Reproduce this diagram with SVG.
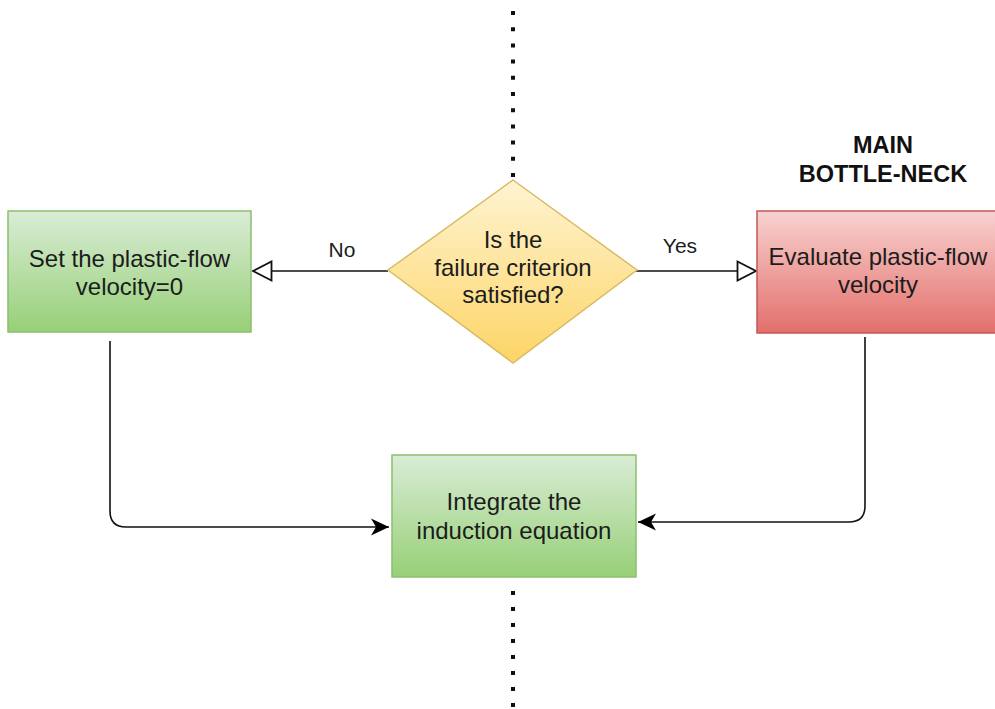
<svg xmlns="http://www.w3.org/2000/svg" width="995" height="709" viewBox="0 0 995 709">
<defs>
<linearGradient id="gGreen" x1="0" y1="0" x2="0" y2="1"><stop offset="0" stop-color="#d9ecd6"/><stop offset="1" stop-color="#97d077"/></linearGradient>
<linearGradient id="gRed" x1="0" y1="0" x2="0" y2="1"><stop offset="0" stop-color="#f8d2d0"/><stop offset="1" stop-color="#e36f6b"/></linearGradient>
<linearGradient id="gYellow" x1="0" y1="0" x2="0" y2="1"><stop offset="0" stop-color="#fff4d2"/><stop offset="1" stop-color="#fdd566"/></linearGradient>
<marker id="open" markerWidth="24" markerHeight="24" refX="20" refY="11" orient="auto" markerUnits="userSpaceOnUse"><path d="M1.5,1.5 L20,11 L1.5,20.5 Z" fill="#fff" stroke="#111" stroke-width="1.8"/></marker>
<marker id="classic" markerWidth="20" markerHeight="18" refX="18" refY="9" orient="auto" markerUnits="userSpaceOnUse"><path d="M0,0.5 L18,9 L0,17.5 L5,9 Z" fill="#000"/></marker>
</defs>
<style>
.t{font-family:"Liberation Sans",Arial,sans-serif;font-size:24px;fill:#1c1c1c;text-anchor:middle}
.lbl{font-family:"Liberation Sans",Arial,sans-serif;font-size:21px;fill:#1c1c1c;text-anchor:middle}
.b{font-family:"Liberation Sans",Arial,sans-serif;font-size:23.5px;font-weight:bold;fill:#111;text-anchor:middle}
.c{fill:none;stroke:#111;stroke-width:1.6}
</style>
<rect width="995" height="709" fill="#fff"/>
<g id="divider">
<line x1="513" y1="11" x2="513" y2="178" stroke="#111" stroke-width="4" stroke-dasharray="4 12.2"/>
<line x1="513" y1="591" x2="513" y2="709" stroke="#111" stroke-width="4" stroke-dasharray="4 12"/>
</g>
<g id="connectors">
<path class="c" d="M388,271 L253,271" marker-end="url(#open)"/>
<path class="c" d="M636,271 L756,271" marker-end="url(#open)"/>
<path class="c" d="M110,341 L110,511 Q110,527 126,527 L389,527" marker-end="url(#classic)"/>
<path class="c" d="M865,337 L865,506 Q865,522 849,522 L638,522" marker-end="url(#classic)"/>
<text class="lbl" x="342" y="257">No</text>
<text class="lbl" x="680" y="253">Yes</text>
</g>
<g id="setzero">
<rect x="8" y="211" width="243" height="121" fill="url(#gGreen)" stroke="#8cbf6e" stroke-width="1.5"/>
<text class="t" x="129.5" y="267">Set the plastic-flow</text>
<text class="t" x="129.5" y="295">velocity=0</text>
</g>
<g id="decision">
<path d="M513,180 L637,270 L513,363 L388,270 Z" fill="url(#gYellow)" stroke="#d8bb63" stroke-width="1.5"/>
<text class="t" x="513" y="248">Is the</text>
<text class="t" x="513" y="276">failure criterion</text>
<text class="t" x="513" y="303">satisfied?</text>
</g>
<g id="evaluate">
<rect x="757" y="211" width="245" height="122" fill="url(#gRed)" stroke="#c05a56" stroke-width="1.5"/>
<text class="t" x="878" y="265">Evaluate plastic-flow</text>
<text class="t" x="878" y="293">velocity</text>
</g>
<g id="bottleneck">
<text class="b" x="883" y="153">MAIN</text>
<text class="b" x="883" y="182">BOTTLE-NECK</text>
</g>
<g id="integrate">
<rect x="392" y="455" width="244" height="122" fill="url(#gGreen)" stroke="#8cbf6e" stroke-width="1.5"/>
<text class="t" x="514" y="510">Integrate the</text>
<text class="t" x="514" y="539">induction equation</text>
</g>
</svg>
